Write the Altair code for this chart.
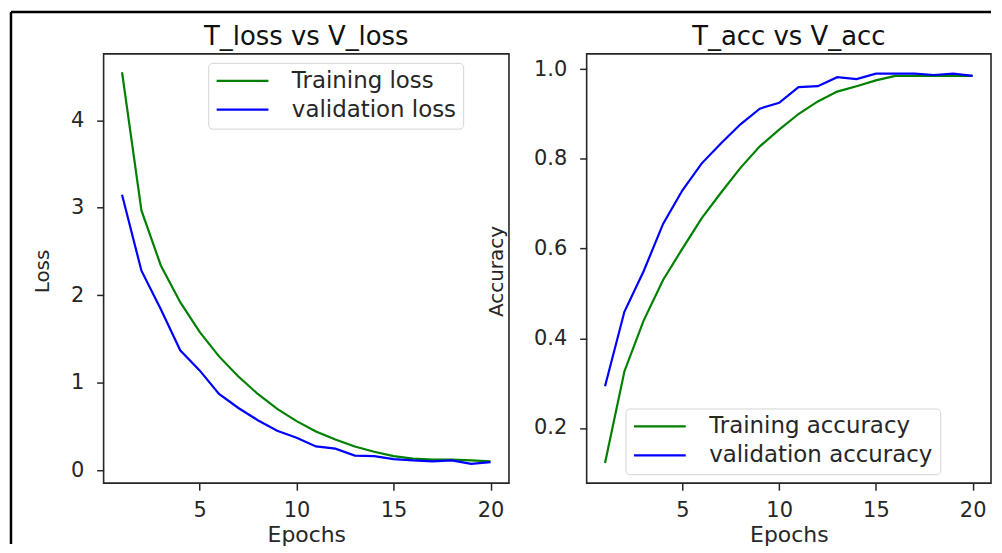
import altair as alt
import pandas as pd

# ---------------- data ----------------
epochs = list(range(1, 21))
train_loss = [4.55, 2.97, 2.34, 1.92, 1.58, 1.30, 1.07, 0.87, 0.70, 0.56,
              0.44, 0.35, 0.27, 0.21, 0.16, 0.13, 0.12, 0.12, 0.11, 0.10]
val_loss = [3.15, 2.28, 1.84, 1.37, 1.14, 0.87, 0.71, 0.57, 0.45, 0.37,
            0.27, 0.245, 0.165, 0.16, 0.125, 0.11, 0.10, 0.11, 0.07, 0.09]
train_acc = [0.122, 0.326, 0.44, 0.53, 0.60, 0.668, 0.725, 0.78, 0.828, 0.865,
             0.90, 0.928, 0.95, 0.962, 0.975, 0.985, 0.985, 0.985, 0.985, 0.985]
val_acc = [0.293, 0.459, 0.55, 0.655, 0.73, 0.79, 0.835, 0.877, 0.912, 0.925,
           0.96, 0.962, 0.982, 0.978, 0.99, 0.99, 0.99, 0.987, 0.99, 0.985]

loss_series = ["Training loss", "validation loss"]
acc_series = ["Training accuracy", "validation accuracy"]
titles = ["T_loss vs V_loss", "T_acc vs V_acc"]
line_colors = ["#008000", "#0000ff"]
x_ticks = [5, 10, 15, 20]
loss_ticks = [0, 1, 2, 3, 4]
acc_ticks = [0.2, 0.4, 0.6, 0.8, 1.0]

loss_df = pd.DataFrame({
    "Epoch": epochs * 2,
    "Value": train_loss + val_loss,
    "Series": [loss_series[0]] * 20 + [loss_series[1]] * 20,
})
acc_df = pd.DataFrame({
    "Epoch": epochs * 2,
    "Value": train_acc + val_acc,
    "Series": [acc_series[0]] * 20 + [acc_series[1]] * 20,
})

FONT = "DejaVu Sans"
TXT = "#262626"
W_L, W_R, H = 407, 406, 431


def x_enc():
    return alt.X(
        "Epoch:Q",
        scale=alt.Scale(domain=[0.05, 20.95], nice=False, zero=False),
        axis=alt.Axis(values=x_ticks, title="Epochs", grid=False, domain=False,
                      tickSize=7, tickWidth=1.5, tickColor=TXT,
                      labelFontSize=21, labelFont=FONT, labelColor=TXT, labelPadding=9,
                      titleFontSize=22, titleFont=FONT, titleFontWeight="normal",
                      titleColor=TXT, titleBaseline="alphabetic", titleY=59),
    )


def y_axis(title, values, fmt, title_x):
    return alt.Axis(values=values, format=fmt, title=title, grid=False, domain=False,
                    tickSize=7, tickWidth=1.5, tickColor=TXT,
                    labelFontSize=21, labelFont=FONT, labelColor=TXT, labelPadding=13,
                    titleFontSize=20, titleFont=FONT, titleFontWeight="normal",
                    titleColor=TXT, titleBaseline="alphabetic", titleAlign="center",
                    titleAngle=270, titleX=title_x, titleY=218)


def legend(lx, ly):
    return alt.Legend(title=None, orient="none", legendX=lx, legendY=ly,
                      symbolType="stroke", symbolSize=2704, symbolStrokeWidth=2.2,
                      clipHeight=22, labelLimit=500,
                      labelFontSize=23, labelFont=FONT, labelColor=TXT, labelOffset=22,
                      rowPadding=6, padding=7, strokeColor="#d4d4d4", fillColor="white",
                      cornerRadius=4)


def title_mark(text, width):
    return alt.Chart(pd.DataFrame({"t": [text]})).mark_text(
        font=FONT, fontSize=26, color="#111111", align="center", baseline="alphabetic"
    ).encode(text="t:N", x=alt.value(width / 2), y=alt.value(-9))


loss_lines = alt.Chart(loss_df).mark_line(strokeWidth=2.2).encode(
    x=x_enc(),
    y=alt.Y("Value:Q", scale=alt.Scale(domain=[-0.15, 4.76], nice=False, zero=False),
            axis=y_axis("Loss", loss_ticks, "d", -55)),
    color=alt.Color("Series:N", scale=alt.Scale(domain=loss_series, range=line_colors),
                    legend=legend(105, 9)),
)

# outer frame of the picture (top and left edges)
frame_df = pd.DataFrame({"k": [0]})
left_edge = alt.Chart(frame_df).mark_rule(color="black", strokeWidth=2.5).encode(
    x=alt.value(-93), y=alt.value(-42), y2=alt.value(492))
top_edge = alt.Chart(frame_df).mark_rule(color="black", strokeWidth=2.5).encode(
    x=alt.value(-93), x2=alt.value(891), y=alt.value(-42))

left = alt.layer(loss_lines, left_edge, top_edge, title_mark(titles[0], W_L)).properties(
    width=W_L, height=H)

acc_lines = alt.Chart(acc_df).mark_line(strokeWidth=2.2).encode(
    x=x_enc(),
    y=alt.Y("Value:Q", scale=alt.Scale(domain=[0.077, 1.034], nice=False, zero=False),
            axis=y_axis("Accuracy", acc_ticks, ".1f", -84)),
    color=alt.Color("Series:N", scale=alt.Scale(domain=acc_series, range=line_colors),
                    legend=legend(39, 356)),
)

right = alt.layer(acc_lines, title_mark(titles[1], W_R)).properties(width=W_R, height=H)

chart = alt.hconcat(left, right, spacing=78, bounds="flush").resolve_scale(
    color="independent"
).properties(padding=0, background="white").configure_view(
    stroke="#262626", strokeWidth=1.6
)

chart.save("out.html", embed_options={"renderer": "svg", "actions": False})
